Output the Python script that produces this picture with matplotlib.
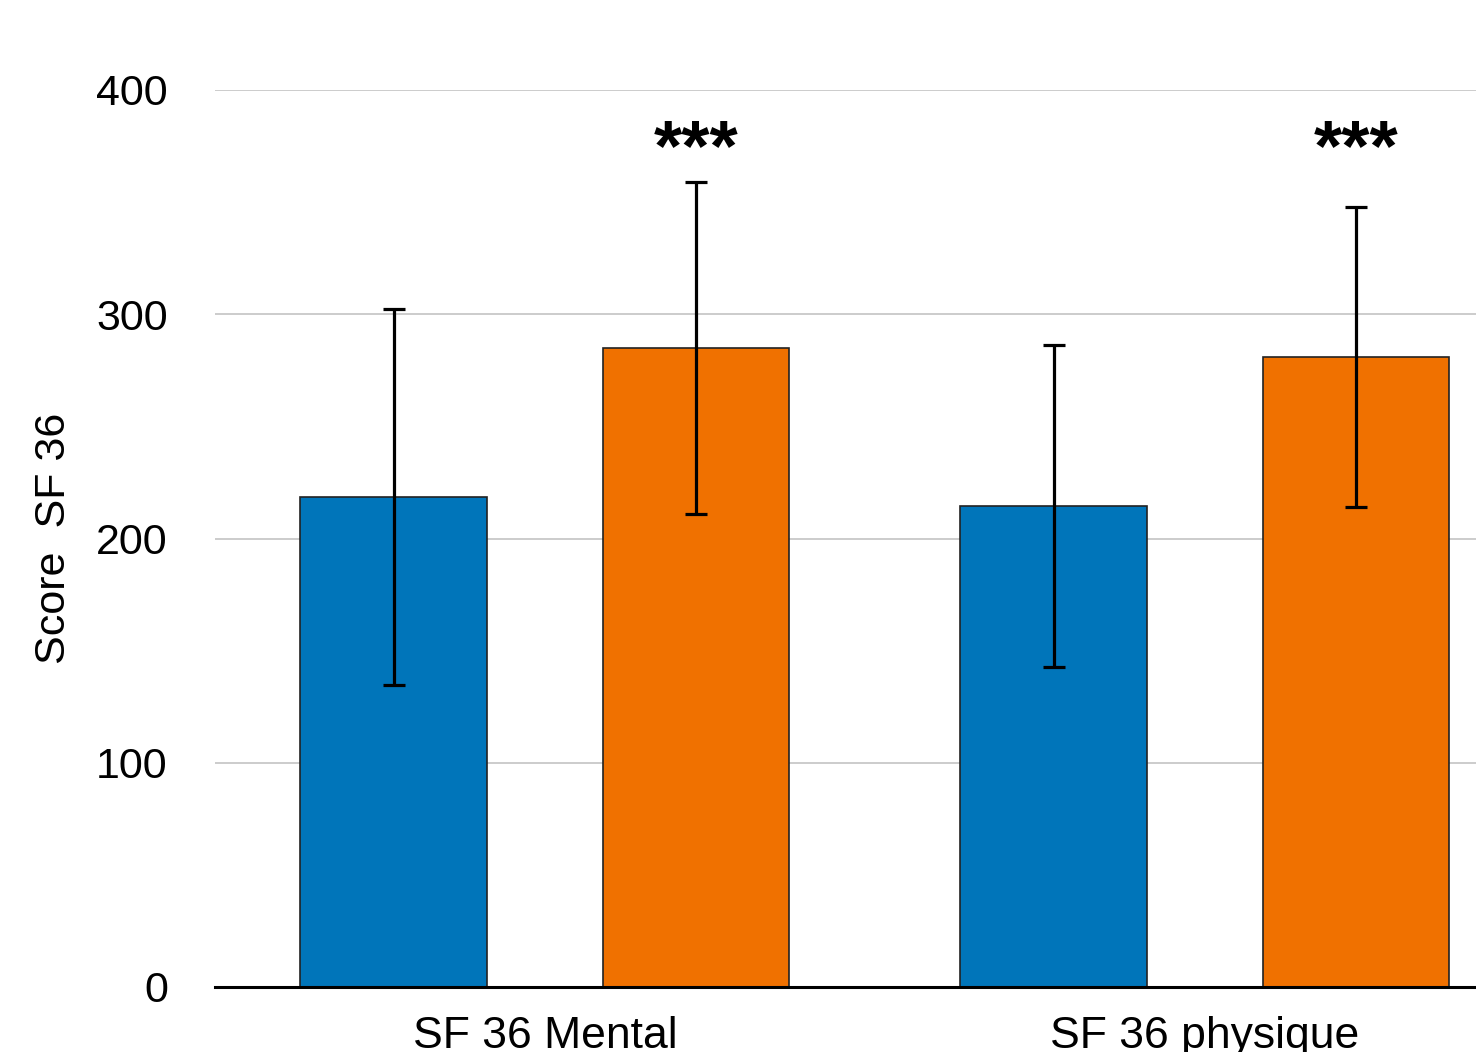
import numpy as np
import matplotlib
matplotlib.use("Agg")
import matplotlib.pyplot as plt

plt.rcParams['font.family'] = ['Liberation Sans', 'DejaVu Sans']

# data
categories = ["SF 36 Mental", "SF 36 physique"]
blue_means = [218.5, 214.5]
blue_err = [84, 72]
orange_means = [285, 281]
orange_err = [74, 67]
stars = ["***", "***"]
star_y = 373

blue = "#0075BA"
orange = "#F07100"

fig = plt.figure(figsize=(14.76, 10.52), dpi=100)
ax = fig.add_axes([215 / 1476, 1 - 987 / 1052, 1 - 215 / 1476, (987 - 90) / 1052])

x = np.arange(len(categories))
w = 0.283
off = 0.229

err_kw = dict(ecolor="black", elinewidth=2.3, capsize=8, capthick=2.3)
ax.bar(x - off, blue_means, w, yerr=blue_err, color=blue, edgecolor="#222222",
       linewidth=1.2, error_kw=err_kw, zorder=3)
ax.bar(x + off, orange_means, w, yerr=orange_err, color=orange, edgecolor="#222222",
       linewidth=1.2, error_kw=err_kw, zorder=3)

for xi, s in zip(x, stars):
    ax.text(xi + off, star_y, s, ha="center", va="center", fontsize=52,
            fontweight="bold", clip_on=False)

ax.set_xlim(-0.5, 1.411)
ax.set_ylim(0, 400)
ax.set_yticks([0, 100, 200, 300, 400])
ax.set_xticks(x)
ax.set_xticklabels(categories)
ax.tick_params(axis="y", length=0, pad=34, labelsize=31)
ax.tick_params(axis="x", length=0, pad=21, labelsize=32)

ax.grid(axis="y", color="#c4c4c4", linewidth=1.2, zorder=0)
ax.set_axisbelow(True)
for side in ["left", "right", "top"]:
    ax.spines[side].set_visible(False)
ax.spines["bottom"].set_color("black")
ax.spines["bottom"].set_linewidth(2.2)
ax.spines["bottom"].set_zorder(4)

ax.set_ylabel("Score  SF 36", fontsize=31)
ax.yaxis.set_label_coords(-0.112, 0.5)

fig.savefig("out.png", dpi=100)
